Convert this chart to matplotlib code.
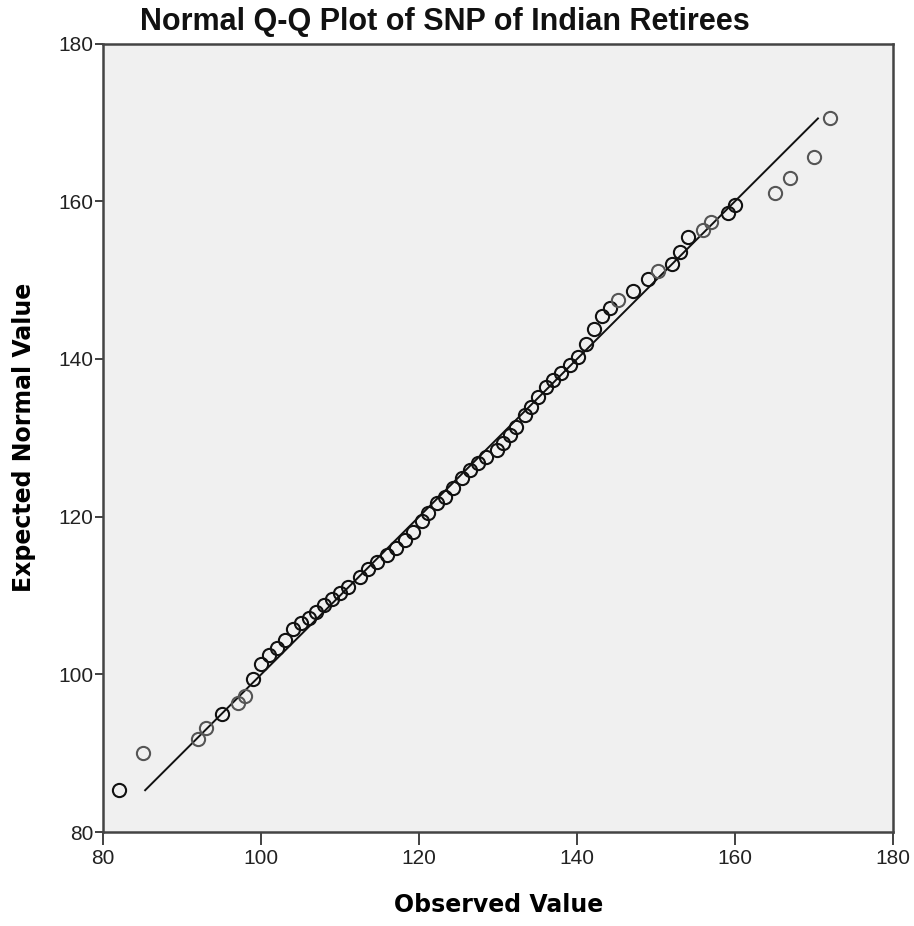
import matplotlib.pyplot as plt
import numpy as np

observed = [82, 85, 92, 93, 95, 97, 98, 99, 100, 101, 102, 103, 104, 105, 106, 107, 108,
            109, 110, 111, 112.5, 113.5, 114.6, 115.9, 117.1, 118.2, 119.2, 120.3, 121.1,
            122.2, 123.3, 124.3, 125.4, 126.4, 127.5, 128.5, 129.8, 130.6, 131.5, 132.3,
            133.4, 134.2, 135.1, 136.1, 137.0, 138.0, 139.1, 140.1, 141.1, 142.1, 143.1,
            144.2, 145.2, 147.1, 149.0, 150.3, 152.0, 153.0, 154.0, 155.9, 157.0, 159.1,
            160.0, 165, 167, 170, 172]
expected = [85.3, 90.0, 91.8, 93.2, 95.0, 96.4, 97.2, 99.4, 101.3, 102.4, 103.4, 104.4, 105.7,
            106.5, 107.2, 107.9, 108.8, 109.5, 110.3, 111.1, 112.4, 113.4, 114.3, 115.1, 116.0,
            117.0, 118.1, 119.4, 120.4, 121.7, 122.5, 123.6, 124.9, 125.9, 126.8, 127.6, 128.4,
            129.3, 130.4, 131.4, 132.9, 133.9, 135.2, 136.5, 137.3, 138.2, 139.2, 140.3, 141.9,
            143.8, 145.4, 146.5, 147.5, 148.6, 150.1, 151.1, 152.1, 153.6, 155.4, 156.4, 157.4,
            158.5, 159.5, 161.1, 163.0, 165.6, 170.5]
# how many cases sit on each point (darker circles = ties)
counts = [2, 1, 1, 1, 2, 1, 1, 2, 2, 2, 2, 2, 2, 2, 2, 2, 2,
          2, 2, 2, 2, 2, 2, 2, 2, 2, 2, 2, 2,
          2, 2, 2, 2, 2, 2, 2, 2, 2, 2, 2,
          2, 2, 2, 2, 2, 2, 2, 2, 2, 2, 2,
          2, 1, 2, 2, 1, 2, 2, 2, 1, 1, 2,
          2, 1, 1, 1, 1]

x_ticks = [80, 100, 120, 140, 160, 180]
y_ticks = [80, 100, 120, 140, 160, 180]

fig = plt.figure(figsize=(9.14, 9.26), dpi=100)
ax = fig.add_axes([0.113, 0.1015, 0.864, 0.8515])
ax.set_facecolor('#f0f0f0')

# reference line over the range of expected values
lo, hi = min(expected), max(expected)
ax.plot([lo, hi], [lo, hi], color='#111111', lw=1.4, zorder=2)

for xv, yv, c in zip(observed, expected, counts):
    col = '#111111' if c > 1 else '#555555'
    ax.plot(xv, yv, marker='o', ms=9.5, mfc='none', mec=col, mew=1.5, ls='none', zorder=3)

ax.set_xlim(80, 180)
ax.set_ylim(80, 180)
ax.set_xticks(x_ticks)
ax.set_yticks(y_ticks)

for s in ax.spines.values():
    s.set_color('#444444')
    s.set_linewidth(1.8)

ax.tick_params(axis='x', direction='out', length=9, width=1.3, color='#333333',
               pad=3, labelsize=15)
ax.tick_params(axis='y', direction='out', length=6, width=1.3, color='#333333',
               pad=1, labelsize=15)
for lab in ax.get_xticklabels() + ax.get_yticklabels():
    lab.set_family('Liberation Sans')
    lab.set_color('#222222')

ax.set_xlabel('Observed Value', fontsize=17, fontweight='bold', family='DejaVu Sans',
              labelpad=18)
ax.set_ylabel('Expected Normal Value', fontsize=17, fontweight='bold', family='DejaVu Sans',
              labelpad=16)

fig.text(445 / 914, 1 - 22 / 926, 'Normal Q-Q Plot of SNP of Indian Retirees',
         ha='center', va='center', fontsize=22, fontweight='bold',
         family='Liberation Sans', color='#111111')

fig.savefig('out.png', dpi=100)
